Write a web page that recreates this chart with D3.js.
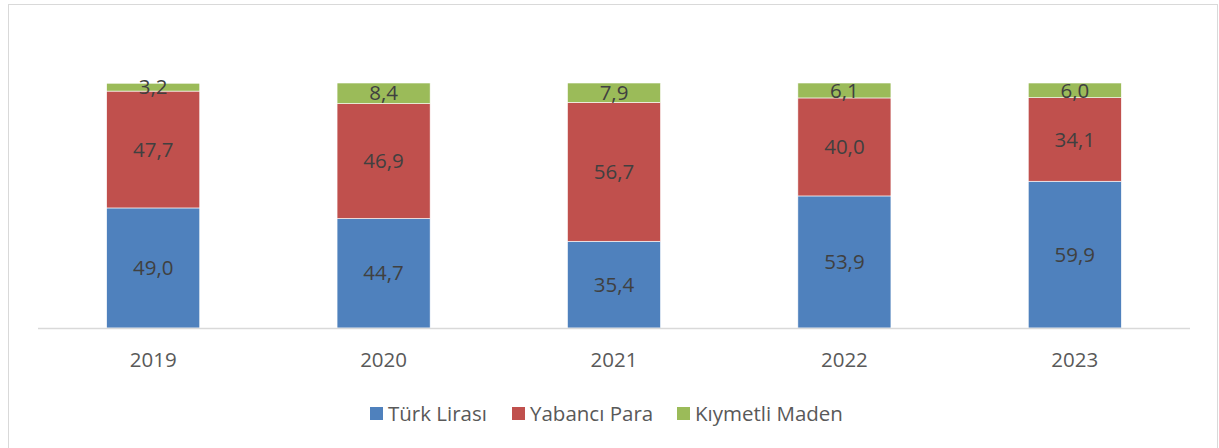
<!DOCTYPE html>
<meta charset="utf-8">
<script src="https://d3js.org/d3.v7.min.js"></script>
<style>
  body { margin: 0; background: #fff; }
  text { font-family: "Open Sans", sans-serif; }
</style>
<div id="chart"></div>
<script>
// data
var years = ["2019", "2020", "2021", "2022", "2023"];
var turkLirasi = [49.0, 44.7, 35.4, 53.9, 59.9];
var yabanciPara = [47.7, 46.9, 56.7, 40.0, 34.1];
var kiymetliMaden = [3.2, 8.4, 7.9, 6.1, 6.0];
var seriesNames = ["Türk Lirası", "Yabancı Para", "Kıymetli Maden"];
var colors = ["#4f81bd", "#c0504d", "#9bbb59"];

var W = 1219, H = 448;
var svg = d3.select("#chart").append("svg")
  .attr("width", W).attr("height", H);

// outer frame
svg.append("rect")
  .attr("x", 8.5).attr("y", 4.5)
  .attr("width", 1209).attr("height", 450)
  .attr("fill", "#fff").attr("stroke", "#d9d9d9");

var rows = years.map(function(y, i) {
  return {year: y, "Türk Lirası": turkLirasi[i], "Yabancı Para": yabanciPara[i], "Kıymetli Maden": kiymetliMaden[i]};
});
var stacked = d3.stack().keys(seriesNames)(rows);

var x = d3.scaleBand().domain(years).range([38, 1190])
  .paddingInner(0.596).paddingOuter(0.298);
var y = d3.scaleLinear().domain([0, 100]).range([328, 83]);

// bars
var groups = svg.selectAll(".series").data(stacked).enter().append("g")
  .attr("fill", function(d, i) { return colors[i]; });
groups.selectAll("rect").data(function(d) { return d; }).enter().append("rect")
  .attr("x", function(d) { return x(d.data.year); })
  .attr("y", function(d) { return y(d[1]); })
  .attr("width", x.bandwidth())
  .attr("height", function(d) { return y(d[0]) - y(d[1]); })
  .attr("stroke", "#fff").attr("stroke-width", 0.6);

// value labels
groups.selectAll("text").data(function(d) { return d; }).enter().append("text")
  .attr("x", function(d) { return x(d.data.year) + x.bandwidth() / 2; })
  .attr("y", function(d) { return (y(d[0]) + y(d[1])) / 2; })
  .attr("dy", "0.35em")
  .attr("text-anchor", "middle")
  .attr("fill", "#404040")
  .style("font-size", "20.5px")
  .text(function(d) { return d3.format(".1f")(d[1] - d[0]).replace(".", ","); });

// x axis
svg.append("line")
  .attr("x1", 38).attr("x2", 1190).attr("y1", 328.5).attr("y2", 328.5)
  .attr("stroke", "#d9d9d9").attr("stroke-width", 1.5);
svg.selectAll(".xlab").data(years).enter().append("text")
  .attr("x", function(d) { return x(d) + x.bandwidth() / 2; })
  .attr("y", 360).attr("dy", "0.35em")
  .attr("text-anchor", "middle")
  .attr("fill", "#595959")
  .style("font-size", "20.5px")
  .text(function(d) { return d; });

// legend
var legX = [370, 512, 677];
var leg = svg.selectAll(".leg").data(seriesNames).enter().append("g")
  .attr("transform", function(d, i) { return "translate(" + legX[i] + ",407)"; });
leg.append("rect").attr("width", 13).attr("height", 13)
  .attr("fill", function(d, i) { return colors[i]; });
leg.append("text").attr("x", 18).attr("y", 7).attr("dy", "0.35em")
  .attr("fill", "#595959").style("font-size", "20.5px")
  .text(function(d) { return d; });
</script>
